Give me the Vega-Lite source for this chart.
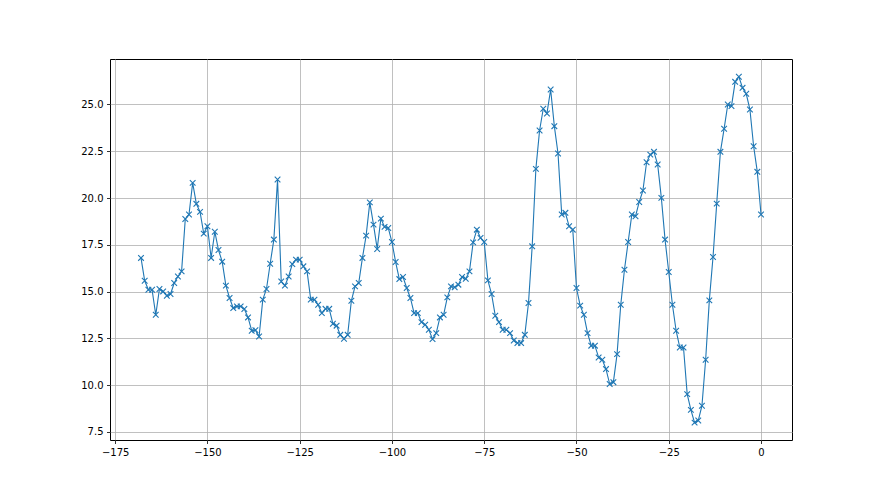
{
  "$schema": "https://vega.github.io/schema/vega-lite/v6.json",
  "width": 682,
  "height": 381,
  "autosize": {"type": "none"},
  "padding": {"left": 110, "top": 59, "right": 88, "bottom": 55},
  "background": "white",
  "config": {
    "view": {"stroke": "black", "strokeWidth": 1},
    "font": "DejaVu Sans",
    "axis": {
      "labelFont": "DejaVu Sans",
      "labelFontSize": 10,
      "labelColor": "black",
      "tickColor": "black",
      "tickSize": 3.5,
      "tickWidth": 0.8,
      "domain": false,
      "gridColor": "#b0b0b0",
      "gridWidth": 0.8,
      "gridOpacity": 1,
      "labelPadding": 3.5,
      "title": null
    }
  },
  "data": {
    "values": [
      {"x": -168, "y": 16.80}, {"x": -167, "y": 15.58}, {"x": -166, "y": 15.10}, {"x": -165, "y": 15.10},
      {"x": -164, "y": 13.76}, {"x": -163, "y": 15.14}, {"x": -162, "y": 15.01}, {"x": -161, "y": 14.78},
      {"x": -160, "y": 14.87}, {"x": -159, "y": 15.46}, {"x": -158, "y": 15.81}, {"x": -157, "y": 16.08},
      {"x": -156, "y": 18.88}, {"x": -155, "y": 19.12}, {"x": -154, "y": 20.81}, {"x": -153, "y": 19.69},
      {"x": -152, "y": 19.26}, {"x": -151, "y": 18.10}, {"x": -150, "y": 18.49}, {"x": -149, "y": 16.80},
      {"x": -148, "y": 18.20}, {"x": -147, "y": 17.22}, {"x": -146, "y": 16.60}, {"x": -145, "y": 15.32},
      {"x": -144, "y": 14.66}, {"x": -143, "y": 14.12}, {"x": -142, "y": 14.21}, {"x": -141, "y": 14.21},
      {"x": -140, "y": 14.07}, {"x": -139, "y": 13.62}, {"x": -138, "y": 12.91}, {"x": -137, "y": 12.94},
      {"x": -136, "y": 12.60}, {"x": -135, "y": 14.57}, {"x": -134, "y": 15.14}, {"x": -133, "y": 16.49},
      {"x": -132, "y": 17.78}, {"x": -131, "y": 20.99}, {"x": -130, "y": 15.54}, {"x": -129, "y": 15.32},
      {"x": -128, "y": 15.81}, {"x": -127, "y": 16.47}, {"x": -126, "y": 16.71}, {"x": -125, "y": 16.71},
      {"x": -124, "y": 16.35}, {"x": -123, "y": 16.08}, {"x": -122, "y": 14.57}, {"x": -121, "y": 14.57},
      {"x": -120, "y": 14.30}, {"x": -119, "y": 13.85}, {"x": -118, "y": 14.08}, {"x": -117, "y": 14.08},
      {"x": -116, "y": 13.28}, {"x": -115, "y": 13.18}, {"x": -114, "y": 12.69}, {"x": -113, "y": 12.48},
      {"x": -112, "y": 12.69}, {"x": -111, "y": 14.51}, {"x": -110, "y": 15.28}, {"x": -109, "y": 15.46},
      {"x": -108, "y": 16.80}, {"x": -107, "y": 17.99}, {"x": -106, "y": 19.77}, {"x": -105, "y": 18.58},
      {"x": -104, "y": 17.28}, {"x": -103, "y": 18.90}, {"x": -102, "y": 18.46}, {"x": -101, "y": 18.40},
      {"x": -100, "y": 17.65}, {"x": -99, "y": 16.58}, {"x": -98, "y": 15.67}, {"x": -97, "y": 15.78},
      {"x": -96, "y": 15.19}, {"x": -95, "y": 14.66}, {"x": -94, "y": 13.85}, {"x": -93, "y": 13.85},
      {"x": -92, "y": 13.37}, {"x": -91, "y": 13.23}, {"x": -90, "y": 12.96}, {"x": -89, "y": 12.46},
      {"x": -88, "y": 12.78}, {"x": -87, "y": 13.62}, {"x": -86, "y": 13.76}, {"x": -85, "y": 14.69},
      {"x": -84, "y": 15.28}, {"x": -83, "y": 15.23}, {"x": -82, "y": 15.37}, {"x": -81, "y": 15.78},
      {"x": -80, "y": 15.69}, {"x": -79, "y": 16.08}, {"x": -78, "y": 17.63}, {"x": -77, "y": 18.31},
      {"x": -76, "y": 17.87}, {"x": -75, "y": 17.65}, {"x": -74, "y": 15.60}, {"x": -73, "y": 14.87},
      {"x": -72, "y": 13.71}, {"x": -71, "y": 13.37}, {"x": -70, "y": 12.96}, {"x": -69, "y": 12.96},
      {"x": -68, "y": 12.78}, {"x": -67, "y": 12.39}, {"x": -66, "y": 12.25}, {"x": -65, "y": 12.25},
      {"x": -64, "y": 12.69}, {"x": -63, "y": 14.39}, {"x": -62, "y": 17.42}, {"x": -61, "y": 21.56},
      {"x": -60, "y": 23.61}, {"x": -59, "y": 24.77}, {"x": -58, "y": 24.52}, {"x": -57, "y": 25.80},
      {"x": -56, "y": 23.84}, {"x": -55, "y": 22.38}, {"x": -54, "y": 19.12}, {"x": -53, "y": 19.21},
      {"x": -52, "y": 18.49}, {"x": -51, "y": 18.31}, {"x": -50, "y": 15.19}, {"x": -49, "y": 14.25},
      {"x": -48, "y": 13.76}, {"x": -47, "y": 12.78}, {"x": -46, "y": 12.11}, {"x": -45, "y": 12.11},
      {"x": -44, "y": 11.48}, {"x": -43, "y": 11.36}, {"x": -42, "y": 10.86}, {"x": -41, "y": 10.06},
      {"x": -40, "y": 10.16}, {"x": -39, "y": 11.66}, {"x": -38, "y": 14.30}, {"x": -37, "y": 16.17},
      {"x": -36, "y": 17.65}, {"x": -35, "y": 19.12}, {"x": -34, "y": 19.03}, {"x": -33, "y": 19.79},
      {"x": -32, "y": 20.40}, {"x": -31, "y": 21.91}, {"x": -30, "y": 22.32}, {"x": -29, "y": 22.47},
      {"x": -28, "y": 21.79}, {"x": -27, "y": 20.01}, {"x": -26, "y": 17.78}, {"x": -25, "y": 16.05},
      {"x": -24, "y": 14.30}, {"x": -23, "y": 12.91}, {"x": -22, "y": 12.01}, {"x": -21, "y": 12.01},
      {"x": -20, "y": 9.52}, {"x": -19, "y": 8.68}, {"x": -18, "y": 8.00}, {"x": -17, "y": 8.11},
      {"x": -16, "y": 8.90}, {"x": -15, "y": 11.36}, {"x": -14, "y": 14.53}, {"x": -13, "y": 16.85},
      {"x": -12, "y": 19.70}, {"x": -11, "y": 22.47}, {"x": -10, "y": 23.70}, {"x": -9, "y": 25.00},
      {"x": -8, "y": 24.91}, {"x": -7, "y": 26.21}, {"x": -6, "y": 26.48}, {"x": -5, "y": 25.89},
      {"x": -4, "y": 25.57}, {"x": -3, "y": 24.73}, {"x": -2, "y": 22.77}, {"x": -1, "y": 21.40},
      {"x": 0, "y": 19.12}
    ]
  },
  "encoding": {
    "x": {
      "field": "x", "type": "quantitative",
      "scale": {"domain": [-176.4, 8.4], "nice": false, "zero": false},
      "axis": {"values": [-175, -150, -125, -100, -75, -50, -25, 0], "format": "d", "grid": true}
    },
    "y": {
      "field": "y", "type": "quantitative",
      "scale": {"domain": [7.07, 27.43], "nice": false, "zero": false},
      "axis": {"values": [7.5, 10, 12.5, 15, 17.5, 20, 22.5, 25], "format": ".1f", "grid": true}
    }
  },
  "layer": [
    {"mark": {"type": "line", "color": "#1f77b4", "strokeWidth": 1.1, "clip": true}},
    {"mark": {"type": "point", "shape": "M-1,-1L1,1M-1,1L1,-1", "filled": false, "color": "#1f77b4", "strokeWidth": 1.1, "size": 32, "opacity": 1, "clip": true}}
  ]
}
